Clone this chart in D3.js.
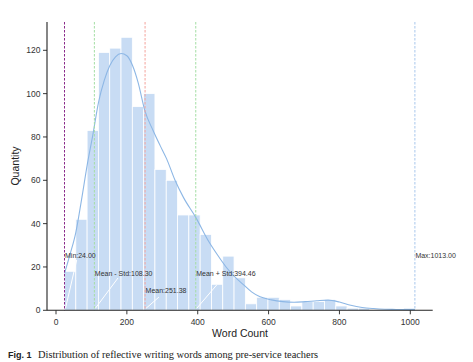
<!DOCTYPE html>
<html>
<head>
<meta charset="utf-8">
<script src="https://cdn.jsdelivr.net/npm/d3@7"></script>
<style>
  body { margin: 0; background: #fff; }
  svg { display: block; }
</style>
</head>
<body>
<div id="chart-area"></div>
<script>
// histogram: 31 bins from min to max word count
var binStart = 24, binEnd = 1013, binCount = 31
var counts = [18, 42, 83, 119, 121, 126, 94, 100, 65, 60, 44, 44, 35, 12, 25, 15,
              3, 6, 6, 5, 2, 4, 4, 5, 2, 1, 1, 0, 0, 0, 1]

// kde curve
var kdeWords = [24, 40, 56, 72, 88, 104, 120, 136, 152, 168, 184, 200, 216, 232, 251,
                274, 294, 312, 336, 360, 394, 432, 456, 480, 504, 528, 552, 576, 608,
                640, 672, 704, 736, 768, 800, 832, 864, 896, 928, 960, 992, 1013]
var kdeCounts = [17, 26, 36, 51, 67, 81, 96, 106, 113, 117, 118.5, 117.5, 113, 105, 92,
                 83, 76, 70, 60, 52, 43, 31.5, 25.5, 20, 15.5, 12, 8.5, 6.2, 4.8,
                 4, 3.7, 4, 4.4, 4.7, 3.8, 2.3, 1.3, 0.8, 0.5, 0.4, 0.3, 0.3]

var statNames = ["Min", "Mean - Std", "Mean", "Mean + Std", "Max"]
var statValues = [24.00, 108.30, 251.38, 394.46, 1013.00]

var xTicks = [0, 200, 400, 600, 800, 1000]
var yTicks = [0, 20, 40, 60, 80, 100, 120]

var svg = d3.select("#chart-area").append("svg")
    .attr("width", 473)
    .attr("height", 362)
    .style("font-family", "'Liberation Sans', Arial, sans-serif")

var x = d3.scaleLinear().domain([0, 1000]).range([56, 410.3])
var y = d3.scaleLinear().domain([0, 120]).range([310.3, 50.3])

var binW = (binEnd - binStart) / binCount

// bars
svg.selectAll("rect.bar")
    .data(counts)
    .enter()
    .append("rect")
    .attr("class", "bar")
    .attr("x", function(d, i) { return x(binStart + i * binW) })
    .attr("width", function(d, i) { return x(binStart + (i + 1) * binW) - x(binStart + i * binW) })
    .attr("y", function(d) { return y(d) })
    .attr("height", function(d) { return y(0) - y(d) })
    .attr("fill", "#c8dcf4")
    .attr("stroke", "#ffffff")
    .attr("stroke-width", 0.8)

// kde
var line = d3.line()
    .x(function(d, i) { return x(kdeWords[i]) })
    .y(function(d) { return y(d) })
    .curve(d3.curveMonotoneX)

svg.append("path")
    .datum(kdeCounts)
    .attr("d", line)
    .attr("fill", "none")
    .attr("stroke", "#8db7e5")
    .attr("stroke-width", 1.1)

// stat lines
var statColors = ["#8a2a8a", "#a4dea4", "#f4a49c", "#a4dea4", "#a8c8ec"]
svg.selectAll("line.stat")
    .data(statValues)
    .enter()
    .append("line")
    .attr("x1", function(d) { return x(d) })
    .attr("x2", function(d) { return x(d) })
    .attr("y1", 22)
    .attr("y2", y(0))
    .attr("stroke", function(d, i) { return statColors[i] })
    .attr("stroke-width", 1)
    .attr("stroke-dasharray", "2.5,1.5")

// annotations (white arrows + labels)
var labelY = [256, 273.3, 290.7, 273.3, 256]
var arrowEnd = [[76.7, 260], [118, 278], [159, 297], [216.7, 285], null]
statValues.forEach(function(v, i) {
    if (arrowEnd[i]) {
        svg.append("line")
            .attr("x1", x(v) + 1).attr("y1", y(0) - 2)
            .attr("x2", arrowEnd[i][0]).attr("y2", arrowEnd[i][1])
            .attr("stroke", "#ffffff")
            .attr("stroke-width", 1)
    }
    svg.append("text")
        .attr("x", x(v) + 0.5)
        .attr("y", labelY[i])
        .attr("dy", "0.35em")
        .attr("font-size", 7)
        .attr("fill", "#333")
        .text(statNames[i] + ":" + v.toFixed(2))
})

// spines
svg.append("line")
    .attr("x1", 47).attr("x2", 47).attr("y1", 22).attr("y2", y(0))
    .attr("stroke", "#222").attr("stroke-width", 1.1)
svg.append("line")
    .attr("x1", 47).attr("x2", 432.7).attr("y1", y(0)).attr("y2", y(0))
    .attr("stroke", "#222").attr("stroke-width", 1.1)

// ticks
svg.selectAll("line.xt").data(xTicks).enter().append("line")
    .attr("x1", function(d) { return x(d) }).attr("x2", function(d) { return x(d) })
    .attr("y1", y(0)).attr("y2", y(0) + 4)
    .attr("stroke", "#222").attr("stroke-width", 0.9)
svg.selectAll("text.xt").data(xTicks).enter().append("text")
    .attr("x", function(d) { return x(d) })
    .attr("y", 322.5)
    .attr("dy", "0.35em")
    .attr("text-anchor", "middle")
    .attr("font-size", 8.5)
    .attr("fill", "#333")
    .text(function(d) { return d })

svg.selectAll("line.yt").data(yTicks).enter().append("line")
    .attr("x1", 43).attr("x2", 47)
    .attr("y1", function(d) { return y(d) }).attr("y2", function(d) { return y(d) })
    .attr("stroke", "#222").attr("stroke-width", 0.9)
svg.selectAll("text.yt").data(yTicks).enter().append("text")
    .attr("x", 40.5)
    .attr("y", function(d) { return y(d) })
    .attr("dy", "0.35em")
    .attr("text-anchor", "end")
    .attr("font-size", 8.5)
    .attr("fill", "#333")
    .text(function(d) { return d })

// axis titles
svg.append("text")
    .attr("x", 240).attr("y", 333.5)
    .attr("dy", "0.35em")
    .attr("text-anchor", "middle")
    .attr("font-size", 10.5)
    .attr("fill", "#222")
    .text("Word Count")
svg.append("text")
    .attr("transform", "translate(15,166) rotate(-90)")
    .attr("dy", "0.35em")
    .attr("text-anchor", "middle")
    .attr("font-size", 10.5)
    .attr("fill", "#222")
    .text("Quantity")

// caption
var cap = svg.append("text").attr("x", 8).attr("y", 357.5).attr("fill", "#222")
cap.append("tspan")
    .attr("font-weight", "bold")
    .attr("font-size", 9)
    .attr("font-family", "'Liberation Sans', Arial, sans-serif")
    .text("Fig. 1")
cap.append("tspan")
    .attr("x", 38)
    .attr("font-family", "'Liberation Serif', 'Times New Roman', serif")
    .attr("font-size", 10.4)
    .text("Distribution of reflective writing words among pre-service teachers")
</script>
</body>
</html>
